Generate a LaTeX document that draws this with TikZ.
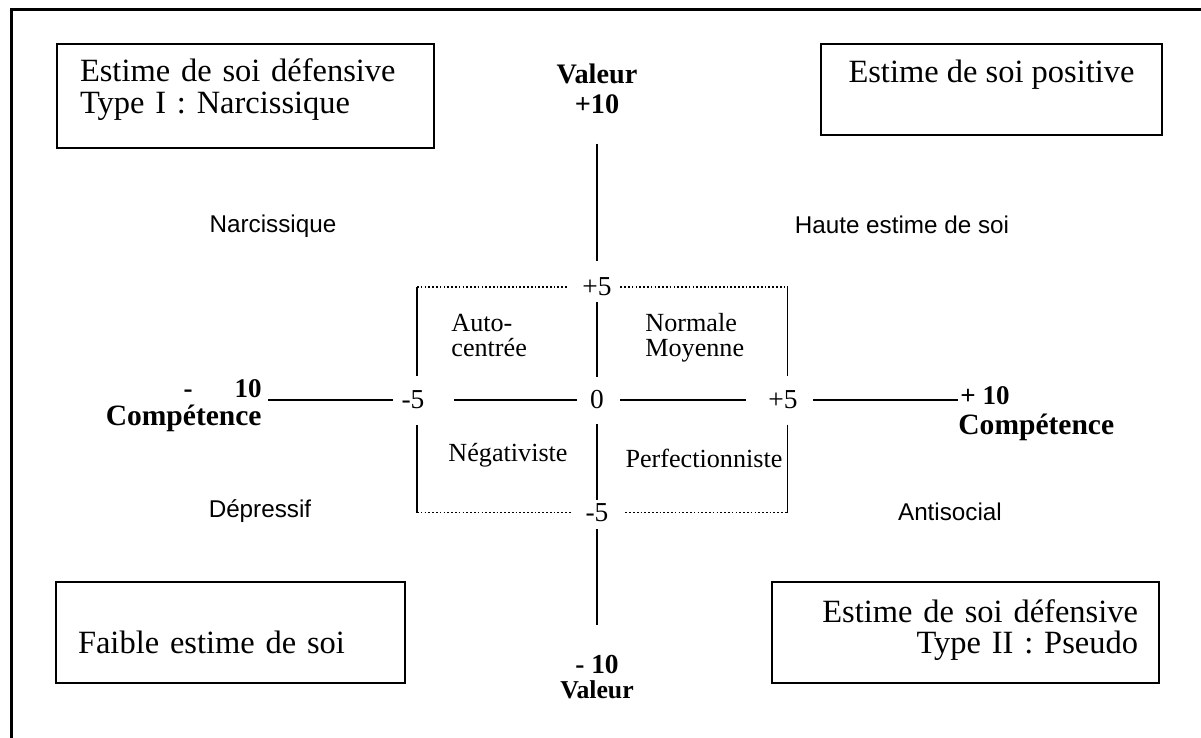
\documentclass[tikz,border=0pt]{standalone}
\usepackage{fontspec}
\setmainfont{Liberation Serif}
\setsansfont{Liberation Sans}
\usepackage{tikz}

\newcommand{\boxtxt}{\fontsize{15.4pt}{15pt}\selectfont}
\newcommand{\quadtxt}{\fontsize{12.4pt}{11.9pt}\selectfont}
\newcommand{\ticktxt}{\fontsize{13pt}{15pt}\selectfont}
\newcommand{\zonetxt}{\sffamily\fontsize{11.5pt}{14pt}\selectfont}

\begin{document}
\begin{tikzpicture}[
    regionbox/.style={rectangle,draw,line width=0.9pt,inner ysep=0pt,font=\boxtxt},
    ticklabel/.style={inner sep=0pt,font=\ticktxt},
    axislabel/.style={inner sep=0pt,font=\bfseries\fontsize{#1}{16pt}\selectfont},
    zonelabel/.style={inner sep=0pt,font=\zonetxt},
    quadlabel/.style={inner sep=0pt,font=\quadtxt,align=left},
    axisline/.style={line width=0.9pt},
    dotline/.style={line width=0.8pt,densely dotted},
    frameline/.style={line width=1.1pt}
]
    \useasboundingbox (-9.95,-5.633) rectangle (10.067,6.667);

    % Frame
    \draw[frameline] (-9.758,-5.633) -- (-9.758,6.51) -- (10.067,6.51);

    % Corner boxes
    \node[regionbox,inner xsep=0.383cm,text width=5.517cm,align=left,text height=0.633cm,text depth=1.1cm] (defnarc) at (-5.858,5.067) {Estime de soi défensive\\Type I : Narcissique};
    \node[regionbox,minimum width=5.683cm,inner xsep=0pt,text height=0.633cm,text depth=0.883cm] (positive) at (6.575,5.175) {Estime de soi positive};
    \node[regionbox,inner xsep=0.367cm,text width=5.083cm,align=left,text height=1.183cm,text depth=0.5cm] (faible) at (-6.108,-3.875) {Faible estime de soi};
    \node[regionbox,inner xsep=0.35cm,text width=5.75cm,align=right,text height=0.667cm,text depth=1.017cm] (defpseudo) at (6.142,-3.875) {Estime de soi défensive\\Type II : Pseudo};

    % Axis labels
    \node[axislabel=13.4pt,anchor=base] (valtop) at (0,5.283) {Valeur};
    \node[axislabel=13.4pt,anchor=base] (valtopnum) at (0,4.767) {+10};
    \node[axislabel=13pt,anchor=base] (valbotnum) at (0,-4.55) {- 10};
    \node[axislabel=12.2pt,anchor=base] (valbot) at (0,-4.967) {Valeur};
    \node[axislabel=12.8pt,anchor=base east] (compl10) at (-5.583,0.05) {-\hspace{0.7cm}10};
    \node[axislabel=14pt,anchor=base east] (compl) at (-5.583,-0.417) {Compétence};
    \node[axislabel=12.8pt,anchor=base west] (compr10) at (6.05,-0.083) {+ 10};
    \node[axislabel=14pt,anchor=base west] (compr) at (6.017,-0.583) {Compétence};

    % Ticks
    \node[ticklabel] (ptop) at (0,1.883) {+5};
    \node[ticklabel] (mleft) at (-3.067,0) {-5};
    \node[ticklabel] (zero) at (0,0) {0};
    \node[ticklabel] (pright) at (3.1,0) {+5};
    \node[ticklabel] (mbot) at (0,-1.875) {-5};

    % Quadrants
    \node[quadlabel,anchor=base west] (autoc) at (-2.433,0.717) {Auto-\\centrée};
    \node[quadlabel,anchor=base west] (normale) at (0.8,0.717) {Normale\\Moyenne};
    \node[quadlabel,anchor=base] (negat) at (-1.483,-1.033) {Négativiste};
    \node[quadlabel,anchor=base] (perfect) at (1.783,-1.117) {Perfectionniste};

    % Zones
    \node[zonelabel,anchor=base] (narc) at (-5.4,2.8) {Narcissique};
    \node[zonelabel,anchor=base] (haute) at (5.083,2.783) {Haute estime de soi};
    \node[zonelabel,anchor=base] (depr) at (-5.617,-1.95) {Dépressif};
    \node[zonelabel,anchor=base] (antis) at (5.883,-2.0) {Antisocial};

    % Axes
    \foreach \a/\b/\s/\t in {compl10.base east |- mleft.west/mleft.west/0.1cm/0.143cm, mleft.east/zero.west/0.493cm/0.219cm, zero.east/pright.west/0.269cm/0.373cm, pright.east/pright.east -| compr10.base west/0.257cm/0.033cm,
        valtopnum.south/ptop.north/0.483cm/0.279cm, ptop.south/zero.north/0.096cm/0.229cm, zero.south/mbot.north/0.246cm/0.054cm, mbot.south/valbotnum.north/0.121cm/0.492cm} {
        \draw[axisline,shorten <=\s,shorten >=\t] (\a) -- (\b);
    }

    % Core square
    \coordinate (coretl) at (-3,1.883);
    \coordinate (coretr) at (3.175,1.883);
    \coordinate (corebl) at (-3,-1.875);
    \coordinate (corebr) at (3.175,-1.875);
    \draw[dotline,shorten >=0.24cm] (coretl) -- (ptop.west);
    \draw[dotline,shorten <=0.14cm] (ptop.east) -- (coretr);
    \draw[dotline,shorten >=0.227cm] (corebl) -- (mbot.west);
    \draw[dotline,shorten <=0.277cm] (mbot.east) -- (corebr);
    \draw[axisline,shorten >=0.246cm] (coretl) -- (coretl |- mleft.north);
    \draw[axisline,shorten <=0.25cm] (corebl |- mleft.south) -- (corebl);
    \draw[axisline,shorten >=0.246cm] (coretr) -- (coretr |- pright.north);
    \draw[axisline,shorten <=0.25cm] (corebr |- pright.south) -- (corebr);
\end{tikzpicture}
\end{document}
